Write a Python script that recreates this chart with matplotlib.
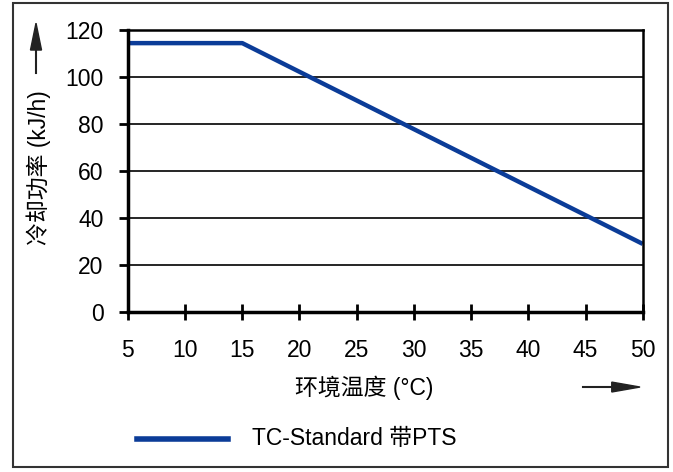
import matplotlib.pyplot as plt
from matplotlib.patches import Rectangle

plt.rcParams['font.family'] = ['Liberation Sans', 'Noto Sans CJK SC', 'DejaVu Sans']

# data
temp = [5, 15, 50]
power = [114.5, 114.5, 29]
x_ticks = [5, 10, 15, 20, 25, 30, 35, 40, 45, 50]
y_ticks = [0, 20, 40, 60, 80, 100, 120]
series_name = 'TC-Standard 带PTS'

fig = plt.figure(figsize=(6.73, 4.72), dpi=100)
ax = fig.add_axes([0.190, 0.339, 0.765, 0.597])

ax.plot(temp, power, color='#0b3c98', lw=3.2, solid_capstyle='butt', zorder=3)

ax.set_xlim(5, 50)
ax.set_ylim(0, 120)
ax.set_xticks(x_ticks)
ax.set_yticks(y_ticks)
for y in y_ticks[1:]:
    ax.axhline(y, color='black', lw=1.2, zorder=1)
ax.tick_params(axis='x', direction='inout', length=11.5, width=2, pad=14, labelsize=16.5)
ax.tick_params(axis='y', direction='out', length=6.5, width=2, pad=11, labelsize=16.5)
ax.spines['left'].set_linewidth(2.5)
ax.spines['bottom'].set_linewidth(2.5)
ax.spines['right'].set_linewidth(1.8)
ax.spines['top'].set_linewidth(1.8)
for sp in ax.spines.values():
    sp.set_zorder(4)

# axis titles with arrows
fig.text(0.541, 0.178, '环境温度 (°C)', fontsize=16.5, ha='center', va='center')
fig.text(0.058, 0.645, '冷却功率 (kJ/h)', fontsize=16.5, rotation=90, ha='center', va='center')
fig.add_artist(plt.Line2D([0.866, 0.911], [0.180, 0.180], color='#222222', lw=1.5))
fig.patches.append(plt.Polygon([[0.909, 0.1905], [0.909, 0.1695], [0.951, 0.180]],
                               closed=True, color='#222222', transform=fig.transFigure))
fig.add_artist(plt.Line2D([0.0535, 0.0535], [0.845, 0.896], color='#222222', lw=1.5))
fig.patches.append(plt.Polygon([[0.0453, 0.894], [0.0617, 0.894], [0.0535, 0.951]],
                               closed=True, color='#222222', transform=fig.transFigure))

# legend
fig.add_artist(plt.Line2D([0.204, 0.339], [0.070, 0.070], color='#0b3c98', lw=4))
fig.text(0.374, 0.072, series_name, fontsize=16.5, ha='left', va='center')

# outer frame
fig.patches.append(Rectangle((0.019, 0.011), 0.973, 0.983, fill=False, ec='#333333',
                             lw=1.5, transform=fig.transFigure))

fig.savefig('out.png', dpi=100)
